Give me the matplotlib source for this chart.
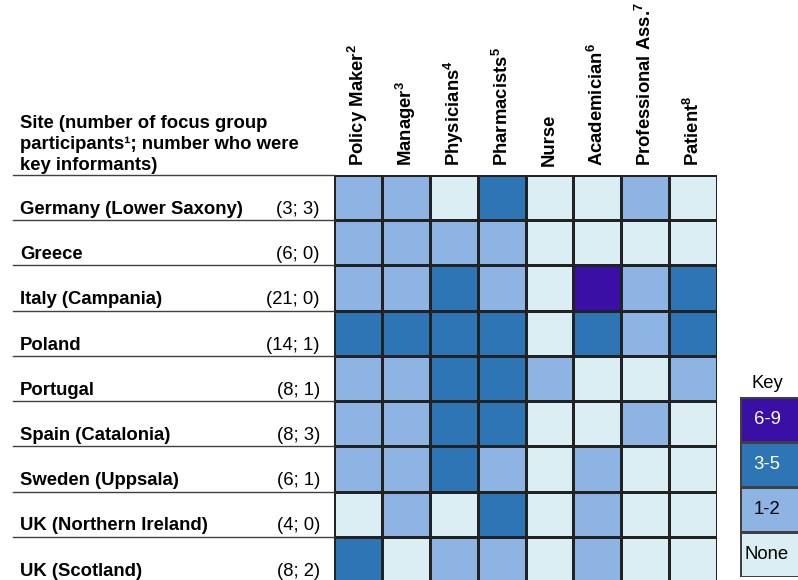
import numpy as np
import matplotlib
matplotlib.use('Agg')
import matplotlib.pyplot as plt
from matplotlib.colors import ListedColormap, BoundaryNorm

plt.rcParams['font.family'] = ['Liberation Sans', 'DejaVu Sans']
plt.rcParams['mathtext.fontset'] = 'custom'
plt.rcParams['mathtext.rm'] = 'Liberation Sans:bold'
plt.rcParams['mathtext.it'] = 'Liberation Sans:bold'
plt.rcParams['mathtext.bf'] = 'Liberation Sans:bold'

sites = ['Germany (Lower Saxony)', 'Greece', 'Italy (Campania)', 'Poland',
         'Portugal', 'Spain (Catalonia)', 'Sweden (Uppsala)',
         'UK (Northern Ireland)', 'UK (Scotland)']
counts = ['(3; 3)', '(6; 0)', '(21; 0)', '(14; 1)', '(8; 1)', '(8; 3)',
          '(6; 1)', '(4; 0)', '(8; 2)']
roles = ['Policy Maker$^{2}$', 'Manager$^{3}$', 'Physicians$^{4}$',
         'Pharmacists$^{5}$', 'Nurse', 'Academician$^{6}$',
         'Professional Ass.$^{7}$', 'Patient$^{8}$']

# 0 = None, 1 = 1-2, 2 = 3-5, 3 = 6-9
levels = [
    [1, 1, 0, 2, 0, 0, 1, 0],
    [1, 1, 1, 1, 0, 0, 0, 0],
    [1, 1, 2, 1, 0, 3, 1, 2],
    [2, 2, 2, 2, 0, 2, 1, 2],
    [1, 1, 2, 2, 1, 0, 0, 1],
    [1, 1, 2, 2, 0, 0, 1, 0],
    [1, 1, 2, 1, 0, 1, 0, 0],
    [0, 1, 0, 2, 0, 1, 0, 0],
    [2, 0, 1, 1, 0, 1, 0, 0],
]
key_labels = ['None', '1-2', '3-5', '6-9']
key_colors = ['#DAEEF3', '#8EB4E3', '#2E75B6', '#3A0FA5']

cmap = ListedColormap(key_colors)
norm = BoundaryNorm([-0.5, 0.5, 1.5, 2.5, 3.5], cmap.N)

W, H = 798, 580
fig = plt.figure(figsize=(W / 100, H / 100), dpi=100)
fs = 13.3

# main grid
gx0, gx1, gy0, gy1 = 334, 717, 175, 582
ax = fig.add_axes([gx0 / W, (H - gy1) / H, (gx1 - gx0) / W, (gy1 - gy0) / H])
data = np.array(levels)
ax.pcolormesh(data, cmap=cmap, norm=norm, edgecolors='#222222', linewidth=0.8)
ax.set_xlim(0, data.shape[1])
ax.set_ylim(data.shape[0], 0)
ax.axis('off')

colw = (gx1 - gx0) / data.shape[1]
lx = (20 - gx0) / colw
rx = (320 - gx0) / colw
line_x = (13 - gx0) / colw

for i, (s, c) in enumerate(zip(sites, counts)):
    ax.text(lx, i + 0.76, s, fontsize=fs, fontweight='bold', va='center', ha='left')
    ax.text(rx, i + 0.76, c, fontsize=fs, va='center', ha='right')
    ax.plot([line_x, 0], [i + 1, i + 1], color='#404040', lw=1.0, clip_on=False)
ax.plot([line_x, 0], [0, 0], color='#404040', lw=1.0, clip_on=False)

ax.text(lx, -0.02, 'Site (number of focus group\nparticipants\u00b9; number who were\nkey informants)',
        fontsize=fs, fontweight='bold', va='bottom', ha='left', linespacing=1.3)

for j, r in enumerate(roles):
    ax.text(j + 0.5, -0.2, r, rotation=90, fontsize=fs, fontweight='bold',
            ha='center', va='bottom')

# key
kx0, kx1, ky0, ky1 = 740, 800, 397, 577
kax = fig.add_axes([kx0 / W, (H - ky1) / H, (kx1 - kx0) / W, (ky1 - ky0) / H])
kdata = np.array([[3], [2], [1], [0]])
kax.pcolormesh(kdata, cmap=cmap, norm=norm, edgecolors='#404040', linewidth=0.8)
kax.set_xlim(0, 1)
kax.set_ylim(4, 0)
kax.axis('off')
for i, v in enumerate(kdata[:, 0]):
    kax.text(0.45, i + 0.5, key_labels[v], fontsize=fs, ha='center', va='center',
             color='white' if v >= 2 else 'black')
kax.text(0.45, -0.1, 'Key', fontsize=fs, ha='center', va='bottom')

fig.savefig('out.png', dpi=100)
